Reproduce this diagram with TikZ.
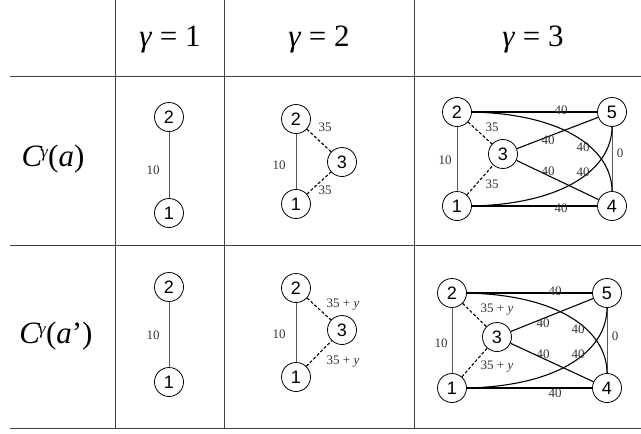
\documentclass[tikz,border=0pt]{standalone}
\usepackage{fontspec}
\setmainfont{Liberation Serif}
\newfontfamily\vtxfont{Liberation Sans}
\begin{document}
\begin{tikzpicture}[x=1pt,y=-1pt,
  vtx/.style={circle,draw,line width=0.8pt,minimum size=29pt,inner sep=0pt,font=\vtxfont\fontsize{18}{18}\selectfont},
  thinedge/.style={draw=black!65,line width=0.7pt},
  heavy/.style={line width=1.1pt},
  dashedge/.style={line width=1.1pt,dash pattern=on 3pt off 2pt},
  lbl/.style={font=\fontsize{13}{13}\selectfont, text=black!80, inner sep=0pt},
  gridline/.style={draw=black!75,line width=0.8pt},
  head/.style={font=\fontsize{31}{31}\selectfont, inner sep=0pt}
]
\useasboundingbox (0,0) rectangle (641,434);
% table
\draw[gridline] (10,76) -- (641,76);
\draw[gridline] (10,245) -- (641,245);
\draw[gridline] (10,428) -- (641,428);
\draw[gridline] (115,0) -- (115,428);
\draw[gridline] (224,0) -- (224,428);
\draw[gridline] (414,0) -- (414,428);
% headers
\node[head] (h1) at (170,40) {\textit{γ} = 1};
\node[head] (h2) at (319,40) {\textit{γ} = 2};
\node[head] (h3) at (533,40) {\textit{γ} = 3};
\node[head] (r1) at (53,159) {\textit{C}\kern-1.5pt\raisebox{9pt}{\fontsize{17}{17}\selectfont\textit{γ}}(\textit{a})};
\node[head] (r2) at (56,336) {\textit{C}\kern-1.5pt\raisebox{9pt}{\fontsize{17}{17}\selectfont\textit{γ}}(\textit{a}’)};

% ---- row 1, gamma = 1
\node[vtx] (a12) at (169,117) {2};
\node[vtx] (a11) at (169,213) {1};
\draw[thinedge] (a12) -- (a11);
\node[lbl] (a1l) at (153,170) {10};
% ---- row 2, gamma = 1
\node[vtx] (b12) at (169,287) {2};
\node[vtx] (b11) at (169,382) {1};
\draw[thinedge] (b12) -- (b11);
\node[lbl] (b1l) at (153,335) {10};

% ---- row 1, gamma = 2
\node[vtx] (a22) at (296,119) {2};
\node[vtx] (a23) at (342,162) {3};
\node[vtx] (a21) at (296,204) {1};
\draw[thinedge] (a22) -- (a21);
\draw[dashedge] (a22) -- (a23);
\draw[dashedge] (a21) -- (a23);
\node[lbl] (a2l1) at (279,165) {10};
\node[lbl] (a2l2) at (325,127) {35};
\node[lbl] (a2l3) at (325,190) {35};
% ---- row 2, gamma = 2
\node[vtx] (b22) at (296,288) {2};
\node[vtx] (b23) at (342,330) {3};
\node[vtx] (b21) at (296,377) {1};
\draw[thinedge] (b22) -- (b21);
\draw[dashedge] (b22) -- (b23);
\draw[dashedge] (b21) -- (b23);
\node[lbl] (b2l1) at (279,334) {10};
\node[lbl] (b2l2) at (343,305) {35 + \textit{y}};
\node[lbl] (b2l3) at (343,362) {35 + \textit{y}};

% ---- row 1, gamma = 3
\node[vtx] (a32) at (457,112) {2};
\node[vtx] (a35) at (612,112) {5};
\node[vtx] (a33) at (503,154) {3};
\node[vtx] (a31) at (457,206) {1};
\node[vtx] (a34) at (612,206) {4};
\draw[thinedge] (a32) -- (a31);
\draw[thinedge] (a35) -- (a34);
\draw[dashedge] (a32) -- (a33);
\draw[dashedge] (a31) -- (a33);
\draw[heavy] (a32) -- (a35);
\draw[heavy] (a31) -- (a34);
\draw[heavy] (a33) -- (a35);
\draw[heavy] (a33) -- (a34);
\draw[heavy] (a32.east) .. controls (565,114) and (612,150) .. (a34.north);
\draw[heavy] (a31.east) .. controls (565,204) and (612,168) .. (a35.south);
\node[lbl] (a3l1) at (445,160) {10};
\node[lbl] (a3l2) at (492,127) {35};
\node[lbl] (a3l3) at (492,184) {35};
\node[lbl] (a3l4) at (561,110) {40};
\node[lbl] (a3l5) at (561,208) {40};
\node[lbl] (a3l6) at (548,140) {40};
\node[lbl] (a3l7) at (548,171) {40};
\node[lbl] (a3l8) at (583,147) {40};
\node[lbl] (a3l9) at (583,172) {40};
\node[lbl] (a3l10) at (620,153) {0};

% ---- row 2, gamma = 3
\node[vtx] (b32) at (452,293) {2};
\node[vtx] (b35) at (607,293) {5};
\node[vtx] (b33) at (497,337) {3};
\node[vtx] (b31) at (452,388) {1};
\node[vtx] (b34) at (607,388) {4};
\draw[thinedge] (b32) -- (b31);
\draw[thinedge] (b35) -- (b34);
\draw[dashedge] (b32) -- (b33);
\draw[dashedge] (b31) -- (b33);
\draw[heavy] (b32) -- (b35);
\draw[heavy] (b31) -- (b34);
\draw[heavy] (b33) -- (b35);
\draw[heavy] (b33) -- (b34);
\draw[heavy] (b32.east) .. controls (560,295) and (607,331) .. (b34.north);
\draw[heavy] (b31.east) .. controls (560,386) and (607,350) .. (b35.south);
\node[lbl] (b3l1) at (441,343) {10};
\node[lbl] (b3l2) at (497,310) {35 + \textit{y}};
\node[lbl] (b3l3) at (497,367) {35 + \textit{y}};
\node[lbl] (b3l4) at (555,291) {40};
\node[lbl] (b3l5) at (555,393) {40};
\node[lbl] (b3l6) at (543,323) {40};
\node[lbl] (b3l7) at (543,354) {40};
\node[lbl] (b3l8) at (578,329) {40};
\node[lbl] (b3l9) at (578,354) {40};
\node[lbl] (b3l10) at (615,336) {0};
\end{tikzpicture}
\end{document}
